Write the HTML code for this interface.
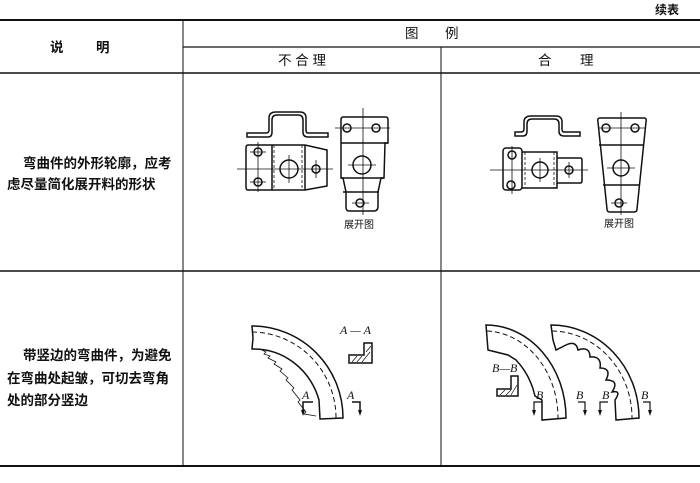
<!DOCTYPE html>
<html><head><meta charset="utf-8"><style>
html,body{margin:0;padding:0;background:#fff;}
svg{display:block}
text{font-family:"Liberation Sans","Noto Sans CJK SC",sans-serif;fill:#111}
.t{font-size:13.5px;font-weight:bold}
.it{font-family:"Liberation Serif",serif;font-style:italic;font-size:12px}
</style></head><body>
<svg width="700" height="483" viewBox="0 0 700 483" xmlns="http://www.w3.org/2000/svg">
<g stroke="#111" fill="none">
<line x1="0" y1="20" x2="700" y2="20" stroke-width="2"/>
<line x1="183" y1="47" x2="700" y2="47" stroke-width="1.3"/>
<line x1="0" y1="73" x2="700" y2="73" stroke-width="1.5"/>
<line x1="0" y1="271" x2="700" y2="271" stroke-width="1.5"/>
<line x1="0" y1="466" x2="700" y2="466" stroke-width="2"/>
<line x1="183" y1="20" x2="183" y2="466" stroke-width="1"/>
<line x1="441" y1="47" x2="441" y2="466" stroke-width="1"/>
</g>
<text x="655" y="14" class="t" style="font-size:12px">续表</text>
<text x="50" y="52" class="t">说</text><text x="96" y="52" class="t">明</text>
<text x="405" y="38" class="t" style="font-weight:normal">图</text><text x="445" y="38" class="t" style="font-weight:normal">例</text>
<text x="278" y="65" class="t" style="font-weight:normal">不 合 理</text>
<text x="538" y="65" class="t" style="font-weight:normal">合</text><text x="580" y="65" class="t" style="font-weight:normal">理</text>
<text x="23" y="168" class="t">弯曲件的外形轮廓，应考</text>
<text x="7" y="189" class="t">虑尽量简化展开料的形状</text>
<text x="23" y="360" class="t">带竖边的弯曲件，为避免</text>
<text x="7" y="383" class="t">在弯曲处起皱，可切去弯角</text>
<text x="7" y="405" class="t">处的部分竖边</text>

<g stroke="#111" fill="none" stroke-width="1.5">
<path d="M247 137 H268 Q272 137 272 132 V120 Q272 115 277 115 H298 Q303 115 303 120 V132 Q303 137 308 137 H328 V133 H308 Q306 133 306 130 V118 Q306 112 300 112 H276 Q269 112 269 118 V130 Q269 133 266 133 H247 Z"/>
<path d="M248 145 H305 L327 150 L327 186 L305 190 H248 Q246 190 246 187 V148 Q246 145 248 145 Z"/>
<line x1="272" y1="145" x2="272" y2="190"/>
<line x1="305" y1="145" x2="305" y2="190"/>
<line x1="274" y1="145" x2="274" y2="190" stroke-width="0.8" stroke-dasharray="3,2"/>
<line x1="302" y1="145" x2="302" y2="190" stroke-width="0.8" stroke-dasharray="3,2"/>
<circle cx="258" cy="152" r="4"/><circle cx="258" cy="182" r="4"/><circle cx="316" cy="169" r="4"/>
<circle cx="289" cy="169" r="9"/>
<g stroke-width="0.8"><line x1="237" y1="169" x2="333" y2="169"/><line x1="258" y1="142" x2="258" y2="192"/><line x1="289" y1="155" x2="289" y2="183"/><line x1="316" y1="160" x2="316" y2="178"/><line x1="250" y1="152" x2="266" y2="152"/><line x1="250" y1="182" x2="266" y2="182"/></g>
<path d="M343 117 H386 Q388 117 388 120 V143 H385 L384 178 H381 L378 192 V206 Q378 211 374 211 H349 Q346 211 346 207 V192 L343 178 H341 L341 143 V120 Q341 117 343 117 Z"/>
<line x1="341" y1="143" x2="388" y2="143"/><line x1="341" y1="178" x2="384" y2="178"/><line x1="343" y1="192" x2="379" y2="192"/>
<circle cx="347" cy="128" r="4"/><circle cx="376" cy="128" r="4"/><circle cx="362" cy="165" r="9"/><circle cx="360" cy="203" r="4"/>
<g stroke-width="0.8"><line x1="363" y1="108" x2="363" y2="215"/><line x1="335" y1="128" x2="390" y2="128"/><line x1="348" y1="165" x2="376" y2="165"/><line x1="352" y1="203" x2="369" y2="203"/></g>
<path d="M515 136 H523 Q527 136 527 131 V124 Q527 119 532 119 H554 Q559 119 559 124 V131 Q559 136 564 136 H580 V132 H564 Q562 132 562 129 V122 Q562 116 556 116 H531 Q524 116 524 122 V129 Q524 132 521 132 H515 Z"/>
<rect x="503" y="148" width="19" height="42" rx="3"/>
<path d="M522 152 H557 V188 H522"/><path d="M557 158 H580 Q582 158 582 160 V181 Q582 183 580 183 H557"/>
<line x1="525" y1="152" x2="525" y2="188" stroke-width="0.8" stroke-dasharray="3,2"/><line x1="554" y1="152" x2="554" y2="188" stroke-width="0.8" stroke-dasharray="3,2"/>
<circle cx="512" cy="155" r="4"/><circle cx="511" cy="185" r="4"/><circle cx="540" cy="170" r="8"/><circle cx="569" cy="170" r="4"/>
<g stroke-width="0.8"><line x1="490" y1="170" x2="588" y2="170"/><line x1="512" y1="146" x2="512" y2="194"/><line x1="540" y1="158" x2="540" y2="182"/><line x1="569" y1="162" x2="569" y2="178"/></g>
<path d="M600 118 H644 Q647 118 646 122 L637 209 Q637 212 634 212 H610 Q607 212 607 209 L598 122 Q597 118 600 118 Z"/>
<line x1="599" y1="145" x2="644" y2="145"/><line x1="603" y1="185" x2="640" y2="185"/>
<circle cx="606" cy="128" r="4"/><circle cx="635" cy="128" r="4"/><circle cx="621" cy="168" r="8"/><circle cx="619" cy="203" r="4"/>
<g stroke-width="0.8"><line x1="621" y1="112" x2="621" y2="215"/><line x1="598" y1="128" x2="645" y2="128"/><line x1="607" y1="168" x2="635" y2="168"/><line x1="611" y1="203" x2="627" y2="203"/></g>

<path d="M252 326 A91 92 0 0 1 343 418 L320 419 L319 400 A68 72 0 0 0 252 349 L253 338 Z"/>
<path d="M252 332 A85 86 0 0 1 336 418" stroke-dasharray="5,3" stroke-width="1"/>
<path d="M262 350 L266 352 L264 354 L270 356 L268 358 L276 362 L274 364 L282 369 L280 371 L288 378 L286 380 L294 388 L292 390 L300 400 L298 402 L306 412 L304 414 L316 416" stroke-width="0.8"/>
<path d="M364 343 H372 V363 H349 V355 H364 Z"/>
<g stroke-width="0.7"><line x1="352" y1="362" x2="357" y2="356"/><line x1="357" y1="362" x2="362" y2="356"/><line x1="362" y1="362" x2="370" y2="352"/><line x1="366" y1="352" x2="371" y2="346"/></g>
<path d="M303 413 V402 H313"/><path d="M352 402 H360 V413"/>
<path d="M486 325 A80 93 0 0 1 566 418 L542 420 L542 400 L535 396 A68 75 0 0 0 516 360 L508 355 L488 350 Z"/>
<path d="M487 331 A74 87 0 0 1 558 418" stroke-dasharray="5,3" stroke-width="1"/>
<path d="M511 376 H518 V396 H497 V389 H511 Z"/>
<g stroke-width="0.7"><line x1="500" y1="395" x2="505" y2="390"/><line x1="506" y1="395" x2="511" y2="390"/><line x1="511" y1="395" x2="517" y2="385"/></g>
<path d="M551 325 A88 93 0 0 1 639 418 L616 420 L615 400 Q622 390 612 392 Q620 380 606 380 Q612 368 600 368 Q602 356 590 357 Q590 346 578 350 Q576 340 566 345 L556 350 L553 340 Z"/>
<path d="M552 331 A81 87 0 0 1 632 418" stroke-dasharray="5,3" stroke-width="1"/>
<g stroke-width="1.2">
<path d="M534 413 V402 H542"/><path d="M578 402 H585 V413"/>
<path d="M600 413 V402 H608"/><path d="M643 402 H650 V413"/>
</g>
</g>
<g fill="#111">
<path d="M301 410 L305 410 L303 416 Z"/><path d="M358 410 L362 410 L360 416 Z"/>
<path d="M532 410 L536 410 L534 416 Z"/><path d="M583 410 L587 410 L585 416 Z"/>
<path d="M598 410 L602 410 L600 416 Z"/><path d="M648 410 L652 410 L650 416 Z"/>
</g>
<text x="344" y="228" style="font-size:10px">展开图</text>
<text x="604" y="227" style="font-size:10px">展开图</text>
<text x="340" y="334" class="it">A — A</text>
<text x="302" y="399" class="it">A</text><text x="347" y="399" class="it">A</text>
<text x="492" y="372" class="it">B—B</text>
<text x="536" y="399" class="it">B</text><text x="576" y="399" class="it">B</text>
<text x="602" y="399" class="it">B</text><text x="641" y="399" class="it">B</text>
</svg>
</body></html>
